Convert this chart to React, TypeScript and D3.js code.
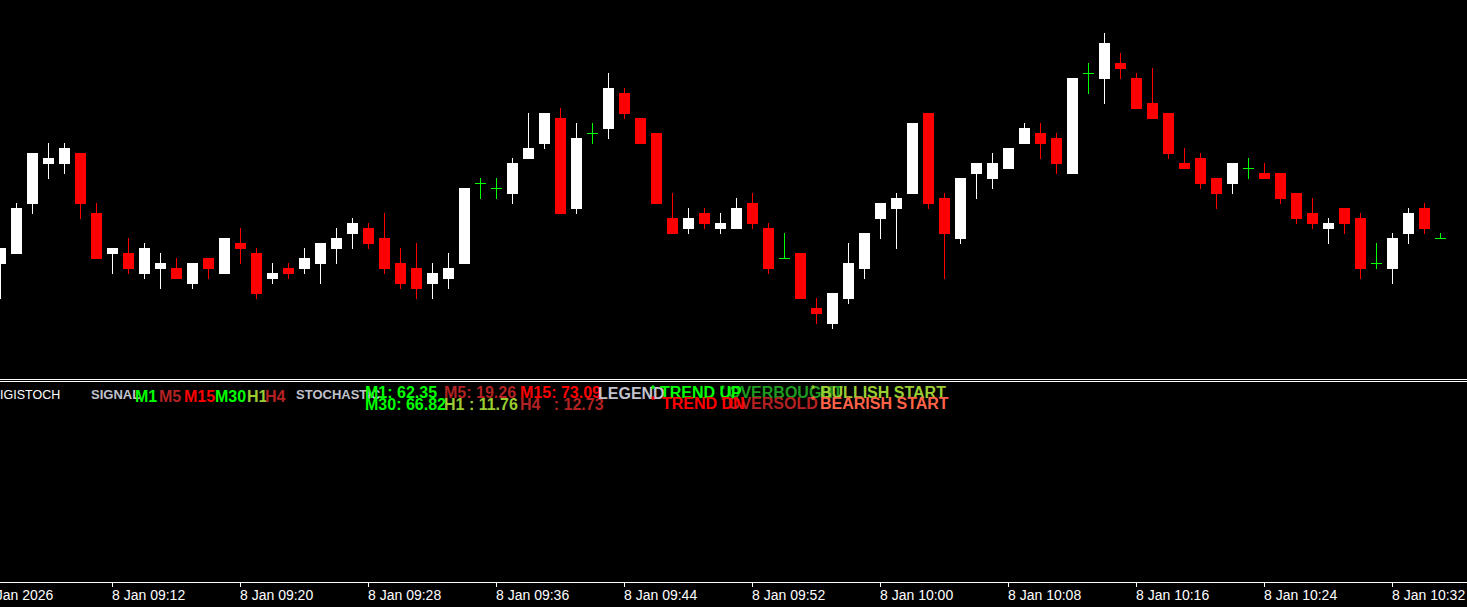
import { useEffect } from "react";
import * as d3 from "d3";

// one-minute bars, 8 Jan 2026, first visible bar = 09:05
const opens = [
  4442.4, 4442.6, 4443.6, 4444.4, 4444.4, 4444.6, 4443.4, 4442.6, 4442.6, 4442.2,
  4442.3, 4442.3, 4442.0, 4442.5, 4442.2, 4442.8, 4442.6, 4442.1, 4442.3, 4442.3,
  4442.4, 4442.7, 4443.0, 4443.1, 4442.9, 4442.4, 4442.3, 4442.0, 4442.1, 4442.4,
  4444.0, 4443.9, 4443.8, 4444.5, 4444.8, 4445.3, 4443.5, 4445.0, 4445.1, 4445.8,
  4445.3, 4445.0, 4443.3, 4443.1, 4443.4, 4443.1, 4443.1, 4443.6, 4443.1, 4442.5,
  4442.6, 4441.5, 4441.2, 4441.7, 4442.3, 4443.3, 4443.5, 4443.8, 4445.4, 4443.7,
  4442.9, 4444.2, 4444.1, 4444.3, 4444.8, 4445.0, 4444.9, 4444.2, 4446.2, 4446.1,
  4446.4, 4446.1, 4445.6, 4445.4, 4444.4, 4444.5, 4444.1, 4444.0, 4444.3, 4444.2,
  4444.2, 4443.8, 4443.4, 4443.1, 4443.5, 4443.3, 4442.4, 4442.3, 4443.0, 4443.5,
  4442.9,
];
const highs = [
  4442.7, 4443.6, 4444.6, 4444.8, 4444.8, 4444.6, 4443.6, 4442.7, 4442.9, 4442.8,
  4442.6, 4442.5, 4442.4, 4442.5, 4442.9, 4443.1, 4442.7, 4442.4, 4442.4, 4442.7,
  4442.8, 4443.1, 4443.3, 4443.2, 4443.4, 4442.7, 4442.8, 4442.4, 4442.6, 4443.9,
  4444.1, 4444.1, 4444.5, 4445.4, 4445.4, 4445.5, 4445.2, 4445.2, 4446.2, 4445.9,
  4445.3, 4445.0, 4443.8, 4443.5, 4443.5, 4443.4, 4443.7, 4443.8, 4443.2, 4443.0,
  4442.6, 4441.7, 4441.8, 4442.8, 4443.0, 4443.6, 4443.8, 4445.2, 4445.4, 4443.8,
  4444.1, 4444.4, 4444.6, 4444.7, 4445.2, 4445.2, 4445.0, 4446.1, 4446.4, 4447.0,
  4446.6, 4446.2, 4446.3, 4445.4, 4444.7, 4444.6, 4444.1, 4444.4, 4444.5, 4444.4,
  4444.2, 4443.8, 4443.7, 4443.3, 4443.5, 4443.4, 4442.8, 4443.0, 4443.5, 4443.6,
  4443.0,
];
const lows = [
  4441.7, 4442.6, 4443.4, 4444.1, 4444.2, 4443.3, 4442.5, 4442.2, 4442.2, 4442.1,
  4441.9, 4442.1, 4441.9, 4442.1, 4442.2, 4442.4, 4441.7, 4442.0, 4442.1, 4442.2,
  4442.0, 4442.4, 4442.7, 4442.7, 4442.2, 4441.9, 4441.7, 4441.7, 4441.9, 4442.4,
  4443.7, 4443.7, 4443.6, 4444.5, 4444.7, 4443.4, 4443.4, 4444.8, 4444.9, 4445.3,
  4444.8, 4443.6, 4443.0, 4443.0, 4443.1, 4443.0, 4443.1, 4443.1, 4442.2, 4442.5,
  4441.7, 4441.2, 4441.1, 4441.6, 4442.1, 4442.9, 4442.7, 4443.8, 4443.5, 4442.1,
  4442.8, 4443.7, 4443.9, 4444.3, 4444.8, 4444.5, 4444.2, 4444.2, 4445.8, 4445.6,
  4446.1, 4445.5, 4445.3, 4444.5, 4444.3, 4443.9, 4443.5, 4443.8, 4444.1, 4444.1,
  4443.6, 4443.2, 4443.1, 4442.8, 4443.0, 4442.1, 4442.3, 4442.0, 4442.8, 4443.0,
  4442.9,
];
const closes = [
  4442.7, 4443.5, 4444.6, 4444.5, 4444.7, 4443.6, 4442.5, 4442.7, 4442.3, 4442.7,
  4442.4, 4442.1, 4442.4, 4442.3, 4442.9, 4442.7, 4441.8, 4442.2, 4442.2, 4442.5,
  4442.8, 4442.9, 4443.2, 4442.8, 4442.3, 4442.0, 4441.9, 4442.2, 4442.3, 4443.9,
  4444.0, 4443.9, 4444.4, 4444.7, 4445.4, 4443.4, 4444.9, 4445.0, 4445.9, 4445.4,
  4444.8, 4443.6, 4443.0, 4443.3, 4443.2, 4443.2, 4443.5, 4443.2, 4442.3, 4442.5,
  4441.7, 4441.4, 4441.8, 4442.4, 4443.0, 4443.6, 4443.7, 4445.2, 4443.6, 4443.0,
  4444.1, 4444.4, 4444.4, 4444.7, 4445.1, 4444.8, 4444.4, 4446.1, 4446.2, 4446.8,
  4446.3, 4445.5, 4445.3, 4444.6, 4444.3, 4444.0, 4443.8, 4444.4, 4444.3, 4444.1,
  4443.7, 4443.3, 4443.2, 4443.2, 4443.2, 4442.3, 4442.4, 4442.9, 4443.4, 4443.1,
  4442.9,
];

const tickBars = [-1, 7, 15, 23, 31, 39, 47, 55, 63, 71, 79, 87];
const tickLabels = [
  "8 Jan 2026", "8 Jan 09:12", "8 Jan 09:20", "8 Jan 09:28", "8 Jan 09:36", "8 Jan 09:44",
  "8 Jan 09:52", "8 Jan 10:00", "8 Jan 10:08", "8 Jan 10:16", "8 Jan 10:24", "8 Jan 10:32",
];

// indicator sub-window texts
const signalFrames = ["M1", "M5", "M15", "M30", "H1", "H4"];
const signalColors = ["#00ff00", "#b22222", "#ff0000", "#00ff00", "#9acd32", "#b22222"];
const stochLabels = ["M1: ", "M5: ", "M15: ", "M30: ", "H1 : ", "H4   : "];
const stochValues = ["62.35", "19.26", "73.09", "66.82", "11.76", "12.73"];
const legendTop = ["TREND UP", "OVERBOUGHT", "BULLISH START"];
const legendBottom = ["TREND DN", "OVERSOLD", "BEARISH START"];
const legendTopColors = ["#00ff00", "#1f9b1f", "#9acd32"];
const legendBottomColors = ["#ff0000", "#b22222", "#ff6347"];

const W = 1467;
const H = 607;
const FONT = '"Liberation Sans", Arial, sans-serif';
const SILVER = "#c0c2cc";

export default function App() {
  useEffect(() => {
    document.body.style.margin = "0";
    document.body.style.background = "#000";
  }, []);

  const x = d3.scaleLinear().domain([0, 90]).range([0, 1440]);
  const y = d3.scaleLinear().domain([4440, 4448]).range([383, -17]);
  const py = (v: number) => Math.round(y(v));

  const bars = opens.map((o, i) => ({ i, o, h: highs[i], l: lows[i], c: closes[i] }));

  // layout of the indicator texts
  const signalX = [135, 159, 184, 215, 247, 265];
  const stochX = [365, 444, 520, 365, 444, 520];
  const legendX = [660, 728, 820];
  const starX = [651, 721, 811];
  const legendOrder = [1, 0, 2];

  return (
    <div style={{ position: "fixed", left: 0, top: 0, width: W, height: H, background: "#000" }}>
      <svg width={W} height={H} style={{ display: "block" }} fontFamily={FONT}>
        <rect width={W} height={H} fill="#000" />

        <g shapeRendering="crispEdges">
          {bars.map((b) => {
            const cx = Math.round(x(b.i));
            const doji = b.o === b.c;
            const color = doji ? "#00ff00" : b.c > b.o ? "#ffffff" : "#ff0000";
            const top = py(Math.max(b.o, b.c));
            const bot = py(Math.min(b.o, b.c));
            return (
              <g key={b.i} fill={color}>
                <rect x={cx} y={py(b.h)} width={1} height={py(b.l) - py(b.h) + 1} />
                <rect x={cx - 5} y={top} width={11} height={doji ? 1 : bot - top + 1} />
              </g>
            );
          })}
        </g>

        {/* window separators */}
        <g shapeRendering="crispEdges" fill="#ffffff">
          <rect x={0} y={379} width={W} height={1} />
          <rect x={0} y={381} width={W} height={1} />
          <rect x={0} y={582} width={W} height={1} />
          {tickBars.map((k) => (
            <rect key={k} x={Math.round(x(k))} y={582} width={1} height={5} />
          ))}
        </g>

        {tickLabels.map((t, j) => (
          <text key={t} x={Math.round(x(tickBars[j]))} y={600} fill="#ffffff" fontSize={14}>
            {t}
          </text>
        ))}

        {/* DIGISTOCH sub-window */}
        <text x={-9} y={399} fill="#ffffff" fontSize={12.5}>DIGISTOCH</text>
        <text x={91} y={399} fill={SILVER} fontSize={13} fontWeight="bold">SIGNAL</text>
        <text x={296} y={399} fill={SILVER} fontSize={13} fontWeight="bold">STOCHASTIC</text>
        {signalFrames.map((f, j) => (
          <text key={f} x={signalX[j]} y={402} fill={signalColors[j]} fontSize={16} fontWeight="bold">
            {f}
          </text>
        ))}
        {stochLabels.map((l, j) => (
          <text
            key={l}
            x={stochX[j]}
            y={j < 3 ? 398 : 409.5}
            fill={signalColors[j]}
            fontSize={16}
            fontWeight="bold"
            style={{ whiteSpace: "pre" }}
          >
            {l + stochValues[j]}
          </text>
        ))}
        <text x={598} y={398.5} fill={SILVER} fontSize={16} fontWeight="bold">LEGEND</text>
        {legendOrder.map((j) => (
          <g key={j} fontWeight="bold">
            <text x={starX[j]} y={393} fill={legendTopColors[j]} fontSize={10}>*</text>
            <text x={starX[j]} y={404} fill={legendBottomColors[j]} fontSize={10}>*</text>
            <text x={legendX[j]} y={398} fill={legendTopColors[j]} fontSize={16}>{legendTop[j]}</text>
            <text x={legendX[j] + (j === 0 ? 2 : 0)} y={409} fill={legendBottomColors[j]} fontSize={16}>
              {legendBottom[j]}
            </text>
          </g>
        ))}
      </svg>
    </div>
  );
}
